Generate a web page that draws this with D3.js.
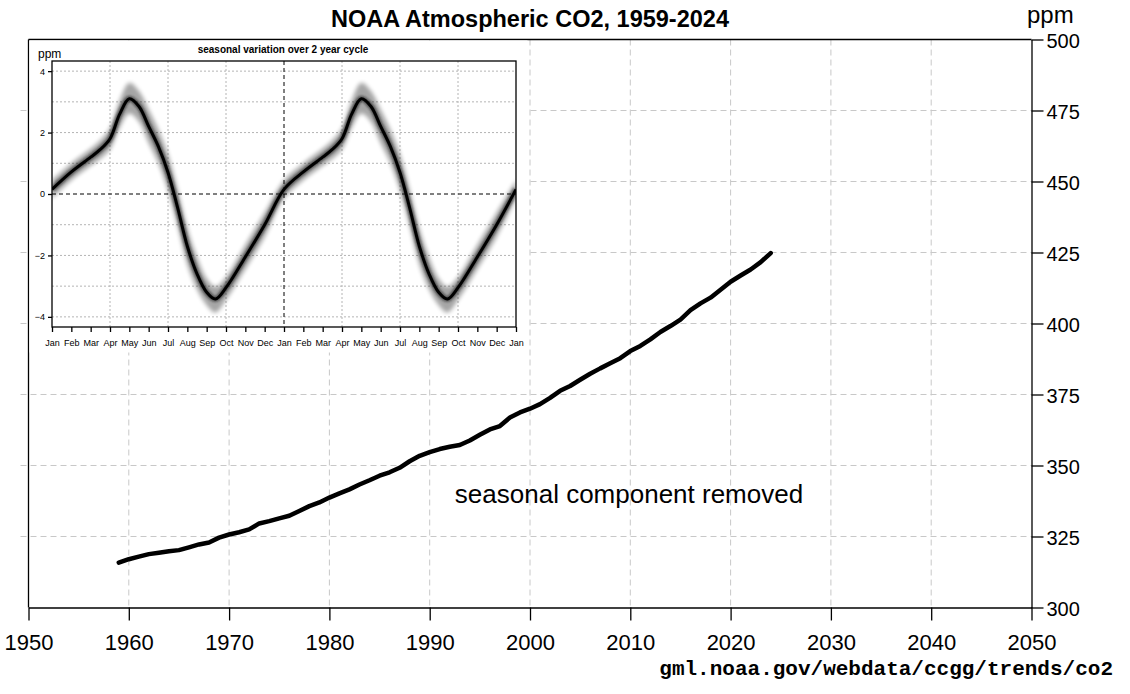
<!DOCTYPE html>
<html lang="en">
<head>
<meta charset="UTF-8">
<title>NOAA Atmospheric CO2, 1959-2024</title>
<style>
  body { margin: 0; background: #fff; }
  svg { display: block; font-family: "Liberation Sans", Arial, sans-serif; }
  .grid line { stroke: #c8c8c8; stroke-width: 1; stroke-dasharray: 6,4; }
  .igrid line { stroke: #b4b4b4; stroke-width: 1; stroke-dasharray: 2,2; }
  .axis path, .axis line { stroke: #000; stroke-width: 1.3; }
  .axis text { fill: #000; }
</style>
</head>
<body>
<svg id="chart" width="1130" height="694"></svg>
<script src="https://d3js.org/d3.v7.min.js"></script>
<script>
// deseasonalized trend, value at start of each year
const years = d3.range(1959, 2025);
const co2 = [
  315.8, 317.0, 317.9, 318.8, 319.3, 319.8, 320.2, 321.2, 322.2, 322.9,
  324.6, 325.7, 326.5, 327.5, 329.6, 330.4, 331.4, 332.3, 334.0, 335.7,
  337.0, 338.7, 340.2, 341.6, 343.3, 344.8, 346.4, 347.6, 349.2, 351.5,
  353.4, 354.7, 355.8, 356.6, 357.2, 358.8, 360.8, 362.7, 363.9, 366.9,
  368.7, 370.0, 371.6, 373.8, 376.3, 378.0, 380.2, 382.3, 384.2, 386.0,
  387.8, 390.3, 392.1, 394.4, 397.0, 399.1, 401.4, 404.7, 407.1, 409.1,
  411.9, 414.7, 416.9, 419.0, 421.6, 424.8
];
const yearTicks = d3.range(1950, 2051, 10);
const ppmTicks = d3.range(300, 501, 25);

// seasonal cycle (month position within the year, ppm)
const seasonMonth = [0, 1, 2, 2.5, 3, 3.5, 4, 4.5, 5, 5.5, 6, 6.5, 7, 7.5, 8, 8.45, 9, 10, 11, 12];
const seasonMean  = [0.15, 0.72, 1.2, 1.45, 1.8, 2.6, 3.1, 2.85, 2.2, 1.55, 0.7, -0.45, -1.7, -2.6, -3.2, -3.42, -3.05, -2.05, -1.0, 0.15];
const seasonHi    = [0.45, 1.0, 1.48, 1.75, 2.15, 3.05, 3.62, 3.35, 2.75, 2.1, 1.3, 0.15, -1.1, -2.05, -2.75, -3.02, -2.7, -1.65, -0.6, 0.45];
const seasonLo    = [-0.15, 0.45, 0.92, 1.15, 1.45, 2.15, 2.62, 2.35, 1.65, 1.0, 0.1, -1.05, -2.3, -3.1, -3.62, -3.86, -3.45, -2.45, -1.4, -0.15];
const monthNames = ["Jan","Feb","Mar","Apr","May","Jun","Jul","Aug","Sep","Oct","Nov","Dec"];
const seasonTicks = [-4, -2, 0, 2, 4];

const svg = d3.select("#chart");

// ---- main chart ----
const x = d3.scaleLinear().domain([1950, 2050]).range([28.5, 1031.5]);
const y = d3.scaleLinear().domain([300, 500]).range([607.5, 39.5]);

svg.append("g").attr("class", "grid")
  .selectAll("line").data(yearTicks.slice(1, -1)).join("line")
  .attr("x1", d => x(d)).attr("x2", d => x(d))
  .attr("y1", y(500)).attr("y2", y(300));
svg.append("g").attr("class", "grid")
  .selectAll("line").data(ppmTicks.slice(1, -1)).join("line")
  .attr("x1", x(1950) - 8).attr("x2", x(2050))
  .attr("y1", d => y(d)).attr("y2", d => y(d));

// frame
svg.append("line").attr("x1", x(1950)).attr("x2", x(2050))
  .attr("y1", y(500)).attr("y2", y(500)).attr("stroke", "#000").attr("stroke-width", 1.3);
svg.append("line").attr("x1", x(1950)).attr("x2", x(1950))
  .attr("y1", y(500)).attr("y2", y(300)).attr("stroke", "#000").attr("stroke-width", 1.3);

const xAxis = svg.append("g").attr("class", "axis")
  .attr("transform", `translate(0,${y(300)})`)
  .call(d3.axisBottom(x).tickValues(yearTicks).tickSize(13).tickSizeOuter(0).tickFormat(d3.format("d")));
xAxis.selectAll("text").attr("font-size", 22).attr("dy", "1.2em");

const yAxis = svg.append("g").attr("class", "axis")
  .attr("transform", `translate(${x(2050)},0)`)
  .call(d3.axisRight(y).tickValues(ppmTicks).tickSize(12).tickSizeOuter(0));
yAxis.selectAll("text").attr("font-size", 20).attr("x", 15).attr("dy", "0.4em");

svg.append("text").attr("x", 1027).attr("y", 23)
  .attr("font-size", 24).text("ppm");

svg.append("text").attr("x", 530).attr("y", 27)
  .attr("text-anchor", "middle").attr("font-size", 23.5).attr("font-weight", "bold")
  .text("NOAA Atmospheric CO2, 1959-2024");

svg.append("text").attr("x", 1113).attr("y", 675)
  .attr("text-anchor", "end").attr("font-size", 21).attr("font-weight", "bold")
  .attr("font-family", "'Liberation Mono', 'Courier New', monospace")
  .text("gml.noaa.gov/webdata/ccgg/trends/co2");

svg.append("text").attr("x", 629).attr("y", 503)
  .attr("text-anchor", "middle").attr("font-size", 26)
  .text("seasonal component removed");

const trend = years.map((yr, i) => ({ yr, v: co2[i] }));
svg.append("path").datum(trend)
  .attr("fill", "none").attr("stroke", "#000").attr("stroke-width", 4.5)
  .attr("stroke-linejoin", "round").attr("stroke-linecap", "round")
  .attr("d", d3.line().x(d => x(d.yr)).y(d => y(d.v)));

// ---- inset: seasonal variation ----
const inset = svg.append("g");
inset.append("rect").attr("x", x(1950) + 1).attr("y", y(500) + 1)
  .attr("width", 498).attr("height", 312).attr("fill", "#fff");

const sx = d3.scaleLinear().domain([0, 24]).range([52, 516]);
const sy = d3.scaleLinear().domain([-4.33, 4.33]).range([327, 61]);

inset.append("g").attr("class", "igrid")
  .selectAll("line").data(d3.range(-4, 5).filter(d => d !== 0)).join("line")
  .attr("x1", sx(0)).attr("x2", sx(24)).attr("y1", d => sy(d)).attr("y2", d => sy(d));
inset.append("g").attr("class", "igrid")
  .selectAll("line").data([3, 6, 9, 15, 18, 21]).join("line")
  .attr("x1", d => sx(d)).attr("x2", d => sx(d)).attr("y1", sy(4.33)).attr("y2", sy(-4.33));
inset.append("line").attr("x1", sx(0)).attr("x2", sx(24)).attr("y1", sy(0)).attr("y2", sy(0))
  .attr("stroke", "#000").attr("stroke-width", 1).attr("stroke-dasharray", "4,3");
inset.append("line").attr("x1", sx(12)).attr("x2", sx(12)).attr("y1", sy(4.33)).attr("y2", sy(-4.33))
  .attr("stroke", "#000").attr("stroke-width", 1).attr("stroke-dasharray", "4,3");

const defs = svg.append("defs");
defs.append("clipPath").attr("id", "iclip").append("rect")
  .attr("x", sx(0)).attr("y", sy(4.33)).attr("width", sx(24) - sx(0)).attr("height", sy(-4.33) - sy(4.33));
defs.append("filter").attr("id", "blur").attr("x", "-10%").attr("y", "-10%").attr("width", "120%").attr("height", "120%")
  .append("feGaussianBlur").attr("stdDeviation", 2.2);
defs.append("filter").attr("id", "blur2")
  .append("feGaussianBlur").attr("stdDeviation", 1);

const season = [];
[0, 12].forEach(off => seasonMonth.forEach((m, i) => {
  if (off && i === 0) return;
  season.push({ m: m + off, v: seasonMean[i], hi: seasonHi[i], lo: seasonLo[i] });
}));

const curve = d3.curveCatmullRom.alpha(0.5);
const band = inset.append("g").attr("clip-path", "url(#iclip)");
band.append("path").datum(season)
  .attr("fill", "#000").attr("opacity", 0.35).attr("filter", "url(#blur)")
  .attr("d", d3.area().curve(curve).x(d => sx(d.m)).y0(d => sy(d.lo)).y1(d => sy(d.hi)));
band.append("path").datum(season)
  .attr("fill", "none").attr("stroke", "#222").attr("stroke-width", 6).attr("opacity", 0.6)
  .attr("filter", "url(#blur2)")
  .attr("d", d3.line().curve(curve).x(d => sx(d.m)).y(d => sy(d.v)));
band.append("path").datum(season)
  .attr("fill", "none").attr("stroke", "#000").attr("stroke-width", 3)
  .attr("d", d3.line().curve(curve).x(d => sx(d.m)).y(d => sy(d.v)));

inset.append("rect").attr("x", sx(0)).attr("y", sy(4.33))
  .attr("width", sx(24) - sx(0)).attr("height", sy(-4.33) - sy(4.33))
  .attr("fill", "none").attr("stroke", "#000").attr("stroke-width", 1.3);

const ix = inset.append("g").attr("class", "axis")
  .attr("transform", `translate(0,${sy(-4.33)})`)
  .call(d3.axisBottom(sx).tickValues(d3.range(25)).tickSize(5).tickSizeOuter(0)
    .tickFormat(d => monthNames[d % 12]));
ix.selectAll("text").attr("font-size", 9).attr("fill", "#222").attr("dy", "1.25em");
ix.select(".domain").remove();

const iy = inset.append("g").attr("class", "axis")
  .attr("transform", `translate(${sx(0)},0)`)
  .call(d3.axisLeft(sy).tickValues(seasonTicks).tickSize(4).tickSizeOuter(0));
iy.selectAll("text").attr("font-size", 9).attr("fill", "#222");
iy.select(".domain").remove();

inset.append("text").attr("x", 38).attr("y", 58).attr("font-size", 12).text("ppm");
inset.append("text").attr("x", 283).attr("y", 53).attr("text-anchor", "middle")
  .attr("font-size", 10).attr("font-weight", "bold")
  .text("seasonal variation over 2 year cycle");
</script>
</body>
</html>
